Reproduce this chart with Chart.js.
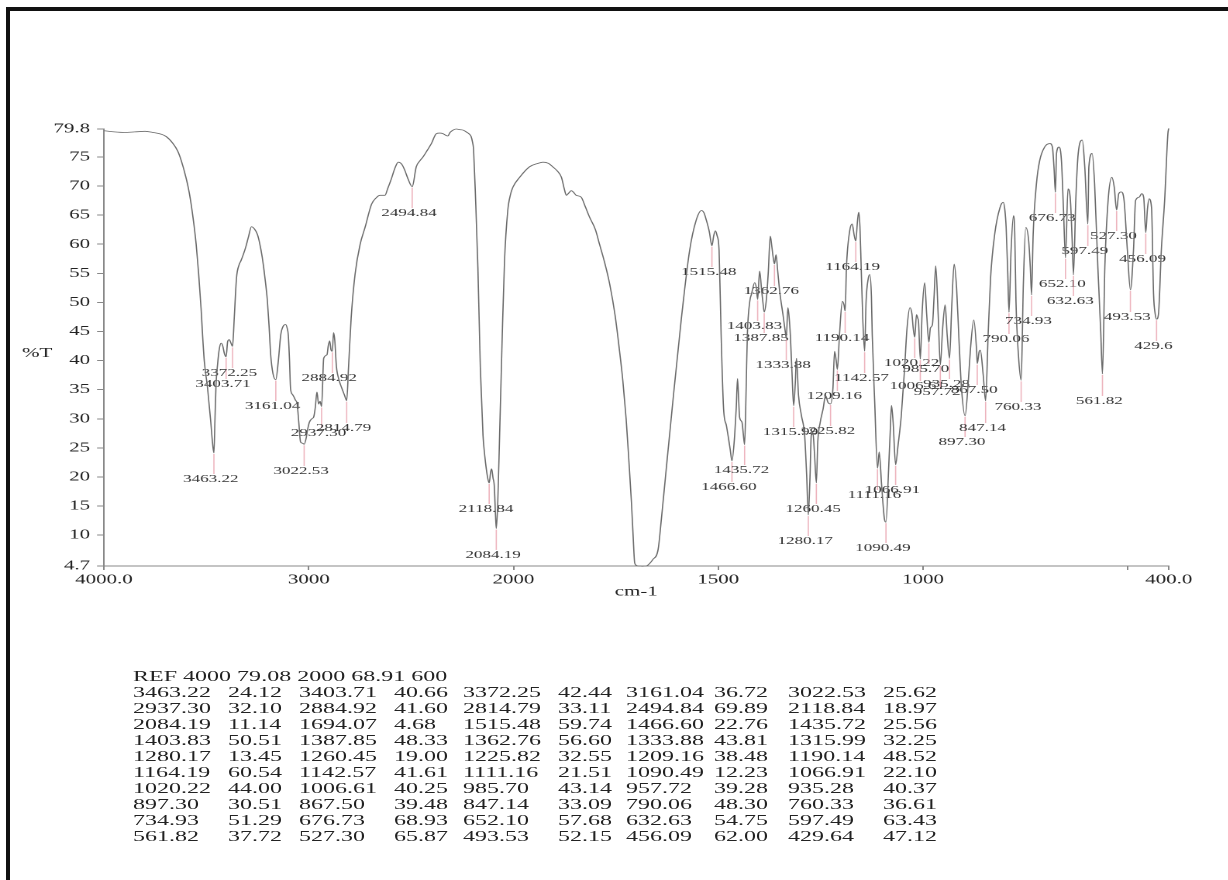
<!DOCTYPE html>
<html>
<head>
<meta charset="utf-8">
<title>IR spectrum</title>
<script src="https://cdn.jsdelivr.net/npm/chart.js@4.4.1/dist/chart.umd.min.js"></script>
<style>
  html, body { margin: 0; padding: 0; background: #fff; }
  body { width: 1228px; height: 880px; position: relative; overflow: hidden; }
  .frame-top { position: absolute; left: 6px; top: 7px; width: 1222px; height: 4px; background: #111; }
  .frame-left { position: absolute; left: 6px; top: 7px; width: 4px; height: 873px; background: #111; }
  /* the scan is squashed vertically, so everything is drawn narrow and stretched sideways */
  #page { position: absolute; left: 0; top: 0; width: 792px; height: 880px; transform: scaleX(1.55); transform-origin: 0 0; }
  #irChart { position: absolute; left: 0; top: 0; }
  #peakTable { position: absolute; left: 0; top: 0; width: 792px; height: 880px;
    font-family: "Liberation Serif", "Times New Roman", serif; font-size: 15.5px; color: #222; }
  #peakTable span { position: absolute; line-height: 18px; white-space: pre; }
</style>
</head>
<body>
<div class="frame-top"></div>
<div class="frame-left"></div>
<div id="page">
  <canvas id="irChart" width="792" height="620" style="width:792px;height:620px"></canvas>
  <div id="peakTable"></div>
</div>
<script>
// Spectrum trace: [wavenumber cm-1, %T]
const spectrum = [
  [4000, 79.5], [3950, 79.3], [3900, 79.2], [3850, 79.3], [3800, 79.4], [3760, 79.2], [3720, 78.9],
  [3696, 78.5], [3663, 77.3], [3640, 76.0], [3623, 74.4], [3600, 71.5], [3583, 68.7], [3565, 64.5],
  [3550, 60.0], [3538, 55.0], [3526, 49.0], [3518, 44.0], [3510, 39.8], [3495, 35.5], [3480, 30.0],
  [3469, 25.5], [3463.22, 24.12], [3458, 30.0], [3453, 35.8], [3445, 39.5], [3437, 42.0], [3428, 43.0],
  [3420, 42.5], [3412, 41.2], [3403.71, 40.66], [3396, 43.3], [3388, 43.6], [3380, 43.0], [3372.25, 42.44],
  [3364, 47.3], [3353, 54.2], [3340, 56.5], [3332, 57.1], [3320, 58.2], [3307, 59.6], [3295, 61.2],
  [3280, 63.0], [3265, 62.6], [3251, 61.7], [3240, 60.2], [3227, 57.7], [3215, 54.5], [3202, 50.2],
  [3194, 46.0], [3186, 41.0], [3175, 37.8], [3161.04, 36.72], [3149, 39.8], [3137, 44.4], [3125, 45.9],
  [3113, 46.2], [3105, 45.5], [3100, 44.4], [3094, 40.0], [3089, 35.2], [3080, 34.2], [3073, 33.8],
  [3065, 33.2], [3057, 32.6], [3049, 29.5], [3040, 26.0], [3030, 25.8], [3022.53, 25.62], [3012, 26.8],
  [3008, 27.7], [2997, 29.4], [2985, 30.0], [2976, 30.3], [2968, 32.0], [2960, 34.6], [2952, 32.5],
  [2945, 33.0], [2937.30, 32.10], [2927, 40.4], [2911, 41.0], [2905, 42.5], [2898, 43.4], [2891, 41.8],
  [2884.92, 41.60], [2879, 44.8], [2873, 43.5], [2865, 39.0], [2854, 36.9], [2838, 35.2], [2825, 34.0],
  [2814.79, 33.11], [2806, 38.7], [2793, 47.3], [2774, 54.8], [2749, 60.0], [2725, 62.9], [2693, 66.9],
  [2670, 68.0], [2652, 68.4], [2628, 68.4], [2615, 69.5], [2596, 71.3], [2580, 73.0], [2563, 74.1],
  [2545, 73.7], [2531, 72.7], [2515, 71.2], [2494.84, 69.89], [2475, 73.3], [2458, 74.3], [2442, 75.0],
  [2420, 76.2], [2401, 77.3], [2377, 79.0], [2360, 79.1], [2345, 79.0], [2330, 78.7], [2321, 78.6],
  [2310, 79.2], [2296, 79.6], [2280, 79.8], [2263, 79.7], [2245, 79.6], [2231, 79.3], [2215, 78.9],
  [2207, 78.5], [2200, 77.5], [2195, 76.2], [2185, 67.5], [2174, 56.0], [2162, 38.7], [2149, 27.1],
  [2140, 23.5], [2133, 21.4], [2126, 19.8], [2118.84, 18.97], [2112, 20.8], [2107, 21.4], [2100, 19.8],
  [2094, 18.5], [2088, 13.5], [2084.19, 11.14], [2077, 15.6], [2068, 27.1], [2055, 44.4], [2044, 57.1],
  [2028, 65.8], [2015, 68.5], [2003, 69.8], [1985, 71.5], [1961, 73.3], [1940, 73.9], [1928, 74.1],
  [1915, 73.9], [1904, 73.3], [1892, 72.5], [1883, 71.5], [1876, 69.5], [1871, 68.4], [1865, 68.8],
  [1859, 69.2], [1853, 68.9], [1847, 68.4], [1835, 68.1], [1825, 66.5], [1814, 64.6], [1800, 62.5],
  [1790, 60.0], [1778, 57.0], [1765, 53.1], [1752, 47.8], [1741, 41.6], [1733, 36.5], [1725, 30.0],
  [1718, 22.5], [1712, 15.6], [1708, 10.0], [1704, 5.2], [1698, 4.75], [1694.07, 4.68], [1685, 4.65],
  [1676, 4.7], [1668, 5.1], [1660, 5.8], [1647, 7.5], [1639, 12.7], [1627, 21.4], [1611, 32.9],
  [1590, 47.3], [1570, 58.9], [1554, 64.1], [1541, 65.8], [1535, 65.4], [1529, 64.1], [1522, 62.2],
  [1515.48, 59.74], [1511, 61.5], [1507, 62.3], [1503, 61.5], [1498, 58.9], [1493, 44.4], [1487, 31.7],
  [1480, 28.8], [1476, 27.1], [1471, 24.8], [1466.60, 22.76], [1460, 27.1], [1456, 32.0], [1453, 36.9],
  [1450, 33.0], [1448, 30.3], [1442, 29.4], [1439, 27.5], [1435.72, 25.56], [1432, 35.0], [1429, 44.4],
  [1423, 50.2], [1419, 51.4], [1411, 53.4], [1407, 52.5], [1403.83, 50.51], [1399, 55.4], [1394, 52.0],
  [1391, 50.0], [1387.85, 48.33], [1383, 50.2], [1378, 55.0], [1373, 61.4], [1369, 59.5], [1366, 57.8],
  [1362.76, 56.60], [1359, 58.2], [1355, 55.5], [1350, 51.9], [1342, 47.9], [1336, 44.8], [1333.88, 43.81],
  [1330, 49.1], [1327, 47.5], [1324, 44.4], [1320, 38.0], [1315.99, 32.25], [1312, 36.0], [1309, 40.4],
  [1304, 34.0], [1297, 30.6], [1289, 27.1], [1284, 20.0], [1280.17, 13.45], [1276, 20.0], [1273, 27.1],
  [1269, 27.7], [1265, 24.0], [1260.45, 19.00], [1257, 26.0], [1251, 29.4], [1244, 31.7], [1238, 34.0],
  [1232, 32.8], [1225.82, 32.55], [1220, 35.2], [1216, 41.6], [1212, 40.0], [1209.16, 38.48], [1204, 44.4],
  [1197, 50.2], [1193, 49.6], [1190.14, 48.52], [1187, 56.0], [1179, 62.3], [1173, 63.5], [1168, 61.5],
  [1164.19, 60.54], [1160, 64.0], [1157, 65.5], [1154, 63.0], [1151, 56.0], [1147, 47.0], [1142.57, 41.61],
  [1139, 50.2], [1134, 54.0], [1130, 54.8], [1126, 51.0], [1124, 44.4], [1118, 32.9], [1111.16, 21.51],
  [1107, 24.3], [1101, 18.5], [1094, 12.7], [1090.49, 12.23], [1084, 21.4], [1080, 28.0], [1077, 32.3],
  [1073, 29.4], [1066.91, 22.10], [1061, 25.4], [1053, 30.6], [1045, 38.7], [1039, 45.6], [1032, 49.1],
  [1027, 48.0], [1024, 45.6], [1020.22, 44.00], [1016, 47.9], [1013, 47.3], [1011, 46.7], [1006.61, 40.25],
  [1002, 48.5], [996, 53.4], [991, 47.9], [985.70, 43.14], [982, 45.6], [977, 46.2], [973, 51.0],
  [969, 56.3], [963, 47.9], [957.72, 39.28], [952, 45.6], [946, 49.6], [941, 44.4], [935.28, 40.37],
  [930, 49.1], [924, 56.6], [918, 52.5], [912, 43.3], [906, 35.2], [897.30, 30.51], [890, 35.8],
  [884, 42.1], [876, 47.0], [869, 41.6], [867.50, 39.48], [863, 41.5], [860, 41.8], [853, 37.5],
  [847.14, 33.09], [841, 44.4], [835, 54.2], [825, 61.7], [812, 66.3], [804, 67.2], [800, 65.8],
  [797, 62.9], [793, 55.0], [790.06, 48.30], [785, 58.9], [779, 64.9], [776, 62.0], [773, 50.2],
  [767, 41.0], [760.33, 36.61], [755, 53.1], [749, 62.9], [742, 60.6], [738, 56.0], [734.93, 51.29],
  [731, 61.7], [723, 70.4], [715, 74.4], [703, 76.7], [690, 77.3], [684, 76.7], [680, 73.0],
  [676.73, 68.93], [674, 75.6], [668, 76.7], [662, 74.4], [657, 66.0], [652.10, 57.68], [646, 69.5],
  [640, 67.5], [636, 61.0], [632.63, 54.75], [627, 67.5], [621, 75.6], [611, 77.9], [605, 73.3],
  [597.49, 63.43], [595, 73.3], [587, 75.6], [581, 70.4], [573, 56.0], [566, 45.0], [561.82, 37.72],
  [556, 56.0], [548, 67.5], [539, 71.5], [533, 69.8], [527.30, 65.87], [522, 68.7], [516, 69.0],
  [509, 67.5], [501, 59.0], [493.53, 52.15], [486, 59.0], [481, 67.5], [472, 68.1], [466, 68.7],
  [461, 68.0], [456.09, 62.00], [452, 66.0], [448, 67.8], [442, 66.3], [437, 51.4], [433, 48.0],
  [429.64, 47.12], [425, 48.0], [418, 59.0], [410, 67.5], [402, 79.0], [400, 79.9]
];

// Peak table printed under the chart
const refLine = 'REF 4000 79.08 2000 68.91 600';
const peakWn = [3463.22, 3403.71, 3372.25, 3161.04, 3022.53, 2937.30, 2884.92, 2814.79, 2494.84, 2118.84,
  2084.19, 1694.07, 1515.48, 1466.60, 1435.72, 1403.83, 1387.85, 1362.76, 1333.88, 1315.99,
  1280.17, 1260.45, 1225.82, 1209.16, 1190.14, 1164.19, 1142.57, 1111.16, 1090.49, 1066.91,
  1020.22, 1006.61, 985.70, 957.72, 935.28, 897.30, 867.50, 847.14, 790.06, 760.33,
  734.93, 676.73, 652.10, 632.63, 597.49, 561.82, 527.30, 493.53, 456.09, 429.64];
const peakT = [24.12, 40.66, 42.44, 36.72, 25.62, 32.10, 41.60, 33.11, 69.89, 18.97,
  11.14, 4.68, 59.74, 22.76, 25.56, 50.51, 48.33, 56.60, 43.81, 32.25,
  13.45, 19.00, 32.55, 38.48, 48.52, 60.54, 41.61, 21.51, 12.23, 22.10,
  44.00, 40.25, 43.14, 39.28, 40.37, 30.51, 39.48, 33.09, 48.30, 36.61,
  51.29, 68.93, 57.68, 54.75, 63.43, 37.72, 65.87, 52.15, 62.00, 47.12];
// where each peak's label sits, in %T (null = not labelled on the plot)
const labelT = [19.65, 35.98, 37.87, 32.2, 21.03, 27.56, 37.01, 28.42, 65.36, 14.5,
  6.6, null, 55.23, 18.28, 21.2, 45.95, 43.88, 51.96, 39.24, 27.73,
  9.0, 14.5, 27.9, 33.92, 43.88, 56.08, 37.01, 16.9, 7.8, 17.76,
  39.59, 35.64, 38.56, 34.6, 35.98, 26.01, 34.95, 28.42, 43.71, 32.03,
  46.8, 64.5, 53.16, 50.24, 58.83, 33.06, 61.41, 47.49, 57.46, 42.51];
const shortLabels = { 429.64: '429.6' };

const xTicks = [4000, 3000, 2000, 1500, 1000, 500, 400];
const xTickLabels = ['4000.0', '3000', '2000', '1500', '1000', '', '400.0'];
const yTicks = [4.7, 10, 15, 20, 25, 30, 35, 40, 45, 50, 55, 60, 65, 70, 75, 79.8];
const yTickLabels = ['4.7', '10', '15', '20', '25', '30', '35', '40', '45', '50', '55', '60', '65', '70', '75', '79.8'];

// Wavenumber axis with the usual scale change at 2000 cm-1 (above it is compressed 2x)
function warp(v) {
    return v > 2000 ? 2000 + (v - 2000) / 2 : v;
}
class BreakScale extends Chart.LinearScale {
    getPixelForValue(value) {
        const hi = warp(this.max), lo = warp(this.min);
        return this.getPixelForDecimal((hi - warp(value)) / (hi - lo));
    }
    getValueForPixel(pixel) {
        const hi = warp(this.max), lo = warp(this.min);
        const u = hi - this.getDecimalForPixel(pixel) * (hi - lo);
        return u > 2000 ? 2000 + (u - 2000) * 2 : u;
    }
}
BreakScale.id = 'irbreak';
BreakScale.defaults = Chart.LinearScale.defaults;
Chart.register(BreakScale);

const serif = '"Liberation Serif", "Times New Roman", serif';

const peakMarks = {
    id: 'peakMarks',
    beforeDatasetsDraw(chart) {
        const { ctx, scales: { x, y }, chartArea } = chart;
        ctx.save();
        ctx.font = '11px ' + serif;
        ctx.textAlign = 'center';
        ctx.textBaseline = 'middle';
        peakWn.forEach((wn, i) => {
            if (labelT[i] == null) return;
            const px = x.getPixelForValue(wn);
            const py = y.getPixelForValue(peakT[i]);
            const ly = y.getPixelForValue(labelT[i]);
            ctx.strokeStyle = 'rgba(232,160,172,0.8)';
            ctx.lineWidth = 0.8;
            ctx.beginPath();
            ctx.moveTo(px, py + 1);
            ctx.lineTo(px, ly - 5);
            ctx.stroke();
            ctx.fillStyle = '#333';
            ctx.fillText(shortLabels[wn] || wn.toFixed(2), px - 2, ly);
        });
        // horizontal y-axis title
        ctx.font = '13.5px ' + serif;
        ctx.fillStyle = '#222';
        ctx.fillText('%T', 24, (chartArea.top + chartArea.bottom) / 2 + 6);
        ctx.restore();
    }
};

const ctx = document.getElementById('irChart').getContext('2d');
const irChart = new Chart(ctx, {
    type: 'scatter',
    data: {
        datasets: [{
            data: spectrum.map(p => ({ x: p[0], y: p[1] })),
            showLine: true,
            borderColor: '#6a6a6a',
            borderWidth: 0.8,
            pointRadius: 0,
            cubicInterpolationMode: 'monotone',
            clip: false
        }]
    },
    options: {
        responsive: false,
        devicePixelRatio: 2,
        animation: false,
        layout: { padding: { left: 0, top: 129, right: 38, bottom: 0 } },
        plugins: { legend: { display: false }, tooltip: { enabled: false } },
        scales: {
            x: {
                type: 'irbreak',
                min: 400,
                max: 4000,
                afterBuildTicks: s => { s.ticks = xTicks.map(v => ({ value: v })); },
                afterFit: s => { s.height = 54; },
                border: { display: true, color: '#888', width: 1 },
                grid: { drawOnChartArea: false, drawTicks: true, tickLength: 4, color: '#888' },
                ticks: {
                    autoSkip: false, maxRotation: 0, padding: 2, color: '#222',
                    font: { family: serif, size: 13.5 },
                    callback: (v, i) => xTickLabels[i]
                },
                title: {
                    display: true, text: 'cm-1', color: '#222',
                    font: { family: serif, size: 13.5 },
                    padding: { top: 0, bottom: 20 }
                }
            },
            y: {
                min: 4.7,
                max: 79.8,
                afterBuildTicks: s => { s.ticks = yTicks.map(v => ({ value: v })); },
                afterFit: s => { s.width = 67.1; },
                border: { display: true, color: '#888', width: 1 },
                grid: { drawOnChartArea: false, drawTicks: true, tickLength: 4.5, color: '#888' },
                ticks: {
                    autoSkip: false, padding: 4.5, color: '#222',
                    font: { family: serif, size: 13.5 },
                    callback: (v, i) => yTickLabels[i]
                }
            }
        }
    },
    plugins: [peakMarks]
});

// Peak list under the chart: the REF line, then five wavenumber / %T pairs per row
const wnCols = [85.8, 192.9, 298.7, 403.9, 508.4];
const tCols = [147.1, 254.2, 360.0, 460.6, 569.7];
const rowTop = 667, rowStep = 16;
const table = document.getElementById('peakTable');

function addCell(text, left, top) {
    const span = document.createElement('span');
    span.textContent = text;
    span.style.left = left + 'px';
    span.style.top = top + 'px';
    table.appendChild(span);
}

addCell(refLine, wnCols[0], rowTop);
for (let i = 0; i < peakWn.length; i++) {
    const row = Math.floor(i / 5) + 1;
    const col = i % 5;
    addCell(peakWn[i].toFixed(2), wnCols[col], rowTop + row * rowStep);
    addCell(peakT[i].toFixed(2), tCols[col], rowTop + row * rowStep);
}
</script>
</body>
</html>
